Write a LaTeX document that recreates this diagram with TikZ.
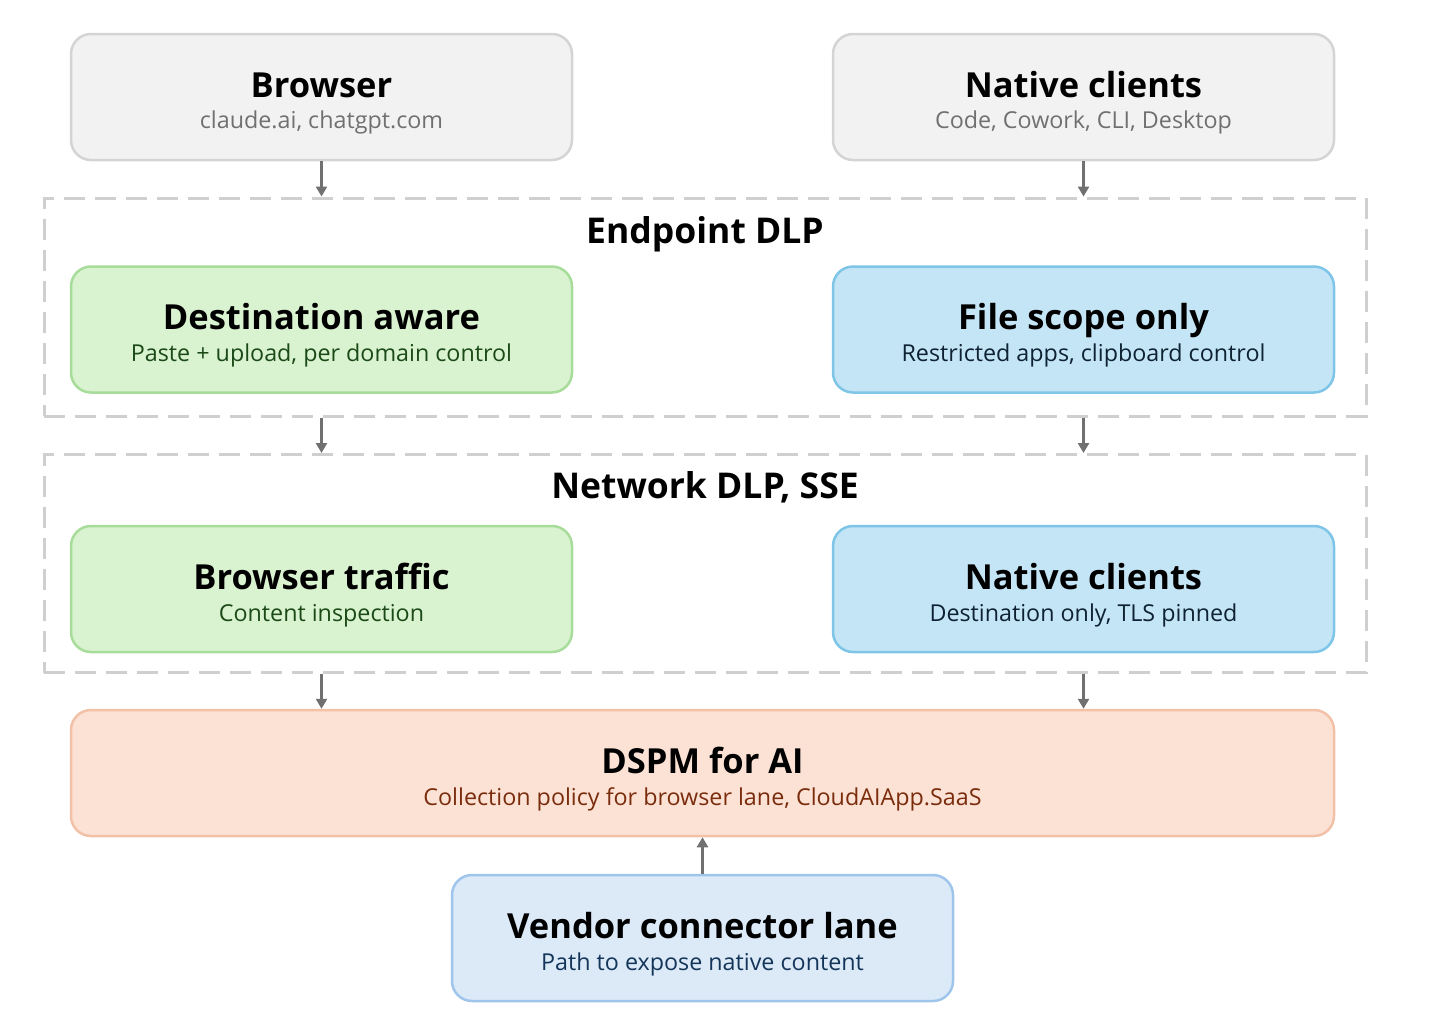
\documentclass[tikz,border=0pt]{standalone}
\usepackage{fontspec}
\setmainfont{Open Sans}
\usetikzlibrary{arrows.meta,calc}
\definecolor{grayfill}{HTML}{F2F2F2}
\definecolor{graydraw}{HTML}{D4D4D4}
\definecolor{grayText}{HTML}{707070}
\definecolor{greenfill}{HTML}{D9F2D0}
\definecolor{greendraw}{HTML}{A8DC9A}
\definecolor{greenText}{HTML}{1B4A17}
\definecolor{bluefill}{HTML}{C4E5F5}
\definecolor{bluedraw}{HTML}{7EC5E7}
\definecolor{blueText}{HTML}{0E2233}
\definecolor{orangefill}{HTML}{FBE2D5}
\definecolor{orangedraw}{HTML}{F3C1A7}
\definecolor{orangeText}{HTML}{7A2C0C}
\definecolor{lbluefill}{HTML}{DCE9F7}
\definecolor{lbluedraw}{HTML}{A0C5EC}
\definecolor{lblueText}{HTML}{14355A}
\definecolor{dashcol}{HTML}{CFCFCF}
\definecolor{arrowcol}{HTML}{707070}
\tikzset{
  box/.style={rounded corners=20pt, line width=2.5pt, minimum width=501pt, minimum height=126pt, inner sep=0pt},
  graybox/.style={box, fill=grayfill, draw=graydraw},
  greenbox/.style={box, fill=greenfill, draw=greendraw},
  bluebox/.style={box, fill=bluefill, draw=bluedraw},
  dspmbox/.style={box, fill=orangefill, draw=orangedraw, minimum width=1263pt},
  vendorbox/.style={box, fill=lbluefill, draw=lbluedraw},
  group/.style={draw=dashcol, line width=3pt, dash pattern=on 21pt off 10pt, minimum width=1322pt, minimum height=218pt, inner sep=0pt},
  ttl/.style={anchor=base, inner sep=0pt, font=\fontsize{34.5}{40}\selectfont\bfseries},
  sub/.style={anchor=base, inner sep=0pt, font=\fontsize{23.3}{27}\selectfont},
  grouptitle/.style={anchor=base, inner sep=0pt, font=\fontsize{35.5}{41}\selectfont\bfseries},
  conn/.style={draw=arrowcol, line width=2.5pt, -{Triangle[width=11pt,length=10pt]}}
}
\begin{document}
\begin{tikzpicture}[x=1pt,y=-1pt]
\useasboundingbox (0,0) rectangle (1456,1020);
% top row
\node[graybox] (browser) at (321.5,97) {};
\node[ttl] (browserT) at (browser.center) {Browser};
\node[sub, text=grayText] (browserS) at ($(browser.center)+(0,31)$) {claude.ai, chatgpt.com};
\node[graybox] (native) at (1083.5,97) {};
\node[ttl] (nativeT) at (native.center) {Native clients};
\node[sub, text=grayText] (nativeS) at ($(native.center)+(0,31)$) {Code, Cowork, CLI, Desktop};
% endpoint group
\node[group] (ep) at (705,307) {};
\node[grouptitle] (epT) at (705,243) {Endpoint DLP};
\node[greenbox] (dest) at (321.5,329.5) {};
\node[ttl] (destT) at (dest.center) {Destination aware};
\node[sub, text=greenText] (destS) at ($(dest.center)+(0,32)$) {Paste + upload, per domain control};
\node[bluebox] (file) at (1083.5,329.5) {};
\node[ttl] (fileT) at (file.center) {File scope only};
\node[sub, text=blueText] (fileS) at ($(file.center)+(0,32)$) {Restricted apps, clipboard control};
% network group
\node[group] (net) at (705,563.5) {};
\node[grouptitle] (netT) at (705,498) {Network DLP, SSE};
\node[greenbox] (btraffic) at (321.5,589) {};
\node[ttl] (btrafficT) at (btraffic.center) {Browser traffic};
\node[sub, text=greenText] (btrafficS) at ($(btraffic.center)+(0,32)$) {Content inspection};
\node[bluebox] (nclients) at (1083.5,589) {};
\node[ttl] (nclientsT) at (nclients.center) {Native clients};
\node[sub, text=blueText] (nclientsS) at ($(nclients.center)+(0,32)$) {Destination only, TLS pinned};
% DSPM
\node[dspmbox] (dspm) at (702.5,773) {};
\node[ttl] (dspmT) at (dspm.center) {DSPM for AI};
\node[sub, text=orangeText] (dspmS) at ($(dspm.center)+(0,32)$) {Collection policy for browser lane, CloudAIApp.SaaS};
% vendor
\node[vendorbox] (vendor) at (702.5,938) {};
\node[ttl] (vendorT) at (vendor.center) {Vendor connector lane};
\node[sub, text=lblueText] (vendorS) at ($(vendor.center)+(0,32)$) {Path to expose native content};
% connectors
\draw[conn] (browser.south) -- (browser.south |- ep.north);
\draw[conn] (native.south) -- (native.south |- ep.north);
\draw[conn] (dest.south |- ep.south) -- (dest.south |- net.north);
\draw[conn] (file.south |- ep.south) -- (file.south |- net.north);
\draw[conn] (btraffic.south |- net.south) -- (btraffic.south |- dspm.north);
\draw[conn] (nclients.south |- net.south) -- (nclients.south |- dspm.north);
\draw[conn] (vendor.north) -- (dspm.south);
\end{tikzpicture}
\end{document}
